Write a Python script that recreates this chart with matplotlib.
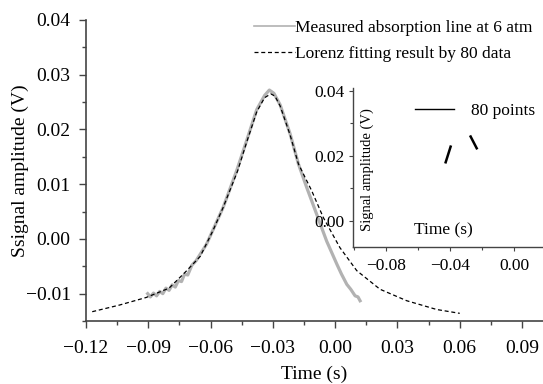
import matplotlib
matplotlib.use("Agg")
import matplotlib.pyplot as plt
from matplotlib.ticker import MultipleLocator

plt.rcParams['font.family'] = ['Liberation Serif', 'DejaVu Serif']

# Measured absorption line
meas_t = [-0.0903, -0.089, -0.0875, -0.086, -0.0845, -0.083, -0.0815, -0.080, -0.0785, -0.077,
          -0.0755, -0.074, -0.0725, -0.071, -0.069, -0.067, -0.065, -0.062, -0.059, -0.0539,
          -0.0474, -0.0426, -0.0378, -0.034, -0.0317, -0.0295, -0.0265, -0.0217, -0.0177, -0.0137,
          -0.0089, -0.0041, -0.002, 0.0008, 0.003, 0.0056, 0.0075, 0.0096, 0.011, 0.012]
meas_v = [-0.0100, -0.0106, -0.0099, -0.0104, -0.0096, -0.0100, -0.0090, -0.0094, -0.0084, -0.0088,
          -0.0076, -0.0078, -0.0064, -0.0066, -0.0048, -0.0040, -0.0028, -0.0010, 0.0015, 0.0058,
          0.0125, 0.0180, 0.0236, 0.0262, 0.0272, 0.0266, 0.0245, 0.0192, 0.0137, 0.0094,
          0.0045, -0.0004, -0.0022, -0.0046, -0.0064, -0.0083, -0.0092, -0.0104, -0.0106, -0.0113]

# Lorenz fitting result
fit_t = [-0.117, -0.104, -0.091, -0.080, -0.072, -0.065, -0.059, -0.054, -0.047, -0.0426,
         -0.0378, -0.034, -0.031, -0.029, -0.0265, -0.0217, -0.0177, -0.0113, -0.0057, 0.0023,
         0.0104, 0.0216, 0.0345, 0.0489, 0.060]
fit_v = [-0.0133, -0.0121, -0.0107, -0.0090, -0.0060, -0.0032, 0.0014, 0.0057, 0.0124, 0.0177,
         0.0232, 0.0258, 0.0265, 0.0261, 0.0243, 0.0190, 0.0137, 0.0088, 0.0039, -0.0016,
         -0.0058, -0.0092, -0.0113, -0.0129, -0.0136]

# Inset: 80 points (two short visible segments)
ins1_t = [-0.0427, -0.0396]
ins1_v = [0.0180, 0.0228]
ins2_t = [-0.0271, -0.0233]
ins2_v = [0.0259, 0.0223]

main_xticks = [-0.12, -0.09, -0.06, -0.03, 0.00, 0.03, 0.06, 0.09]
main_yticks = [-0.01, 0.00, 0.01, 0.02, 0.03, 0.04]
ins_xticks = [-0.08, -0.04, 0.00]
ins_yticks = [0.00, 0.02, 0.04]

W, H = 543, 384
fig = plt.figure(figsize=(W / 100, H / 100), dpi=100)
spc = '#444444'

# main axes
ax = fig.add_axes([86 / W, 1 - 321 / H, 457 / W, 301 / H])
ax.plot(meas_t, meas_v, color='#b2b2b2', lw=2.3, label='Measured absorption line at 6 atm')
ax.plot(fit_t, fit_v, color='black', lw=0.9, ls=(0, (3.2, 2.2)), label='Lorenz fitting result by 80 data')
ax.set_xlim(-0.12, 0.1001)
ax.set_ylim(-0.015, 0.04)
ax.set_xticks(main_xticks)
ax.set_xticklabels(['\u22120.12', '\u22120.09', '\u22120.06', '\u22120.03', '0.00', '0.03', '0.06', '0.09'])
ax.set_yticks(main_yticks)
ax.set_yticklabels(['\u22120.01', '0.00', '0.01', '0.02', '0.03', '0.04'])
ax.xaxis.set_minor_locator(MultipleLocator(0.015))
ax.yaxis.set_minor_locator(MultipleLocator(0.005))
for s in ['top', 'right']:
    ax.spines[s].set_visible(False)
for s in ['left', 'bottom']:
    ax.spines[s].set_color(spc)
    ax.spines[s].set_linewidth(1.2)
ax.tick_params(which='major', direction='out', length=5, width=1.0, color=spc, labelsize=14)
ax.tick_params(axis='x', which='major', pad=9)
ax.tick_params(axis='y', which='major', pad=6)
ax.tick_params(which='minor', direction='out', length=3, width=1.0, color=spc)
ax.set_xlabel('Time (s)', fontsize=14, labelpad=6)
ax.set_ylabel('Ssignal amplitude (V)', fontsize=14)
ax.yaxis.set_label_coords((29.5 - 86) / 457, 0.5)
leg = ax.legend(loc='upper right', bbox_to_anchor=(1.0, 1.035), frameon=False, fontsize=12.5,
                handlelength=2.4, handletextpad=0.0, labelspacing=0.55, borderaxespad=0.2)
leg.legend_handles[0].set_linewidth(1.2)

# inset axes
iw = 224
ax2 = fig.add_axes([352.7 / W, 1 - 246.7 / H, iw / W, 158.4 / H])
ax2.set_facecolor('none')
ax2.plot(ins1_t, ins1_v, color='black', lw=1.8, label='80 points')
ax2.plot(ins2_t, ins2_v, color='black', lw=1.8)
ax2.set_xlim(-0.1008, -0.1008 + iw / 1600)
ax2.set_ylim(-0.0079, 0.0407)
ax2.set_xticks(ins_xticks)
ax2.set_xticklabels(['\u22120.08', '\u22120.04', '0.00'])
ax2.set_yticks(ins_yticks)
ax2.set_yticklabels(['0.00', '0.02', '0.04'])
ax2.xaxis.set_minor_locator(MultipleLocator(0.02))
ax2.yaxis.set_minor_locator(MultipleLocator(0.01))
for s in ['top', 'right']:
    ax2.spines[s].set_visible(False)
for s in ['left', 'bottom']:
    ax2.spines[s].set_color(spc)
    ax2.spines[s].set_linewidth(1.0)
ax2.tick_params(which='major', direction='out', length=3, width=0.8, color=spc, labelsize=12.5, pad=3)
ax2.tick_params(axis='x', which='major', pad=5)
ax2.tick_params(which='minor', direction='out', length=2, width=0.8, color=spc)
ax2.text(14.3 / iw, 0.484, 'Signal amplitude (V)', transform=ax2.transAxes, rotation=90,
         ha='center', va='center', fontsize=10.5)
ax2.text(0.403, 0.105, 'Time (s)', transform=ax2.transAxes, ha='center', va='center', fontsize=12.5)
leg2 = ax2.legend(loc='upper left', bbox_to_anchor=((415 - 352.7) / iw - 0.045, 0.975), frameon=False,
                  fontsize=12.5, handlelength=2.2, handletextpad=1.0, borderaxespad=0.2)
leg2.legend_handles[0].set_linewidth(1.0)

fig.savefig('out.png', dpi=100)
